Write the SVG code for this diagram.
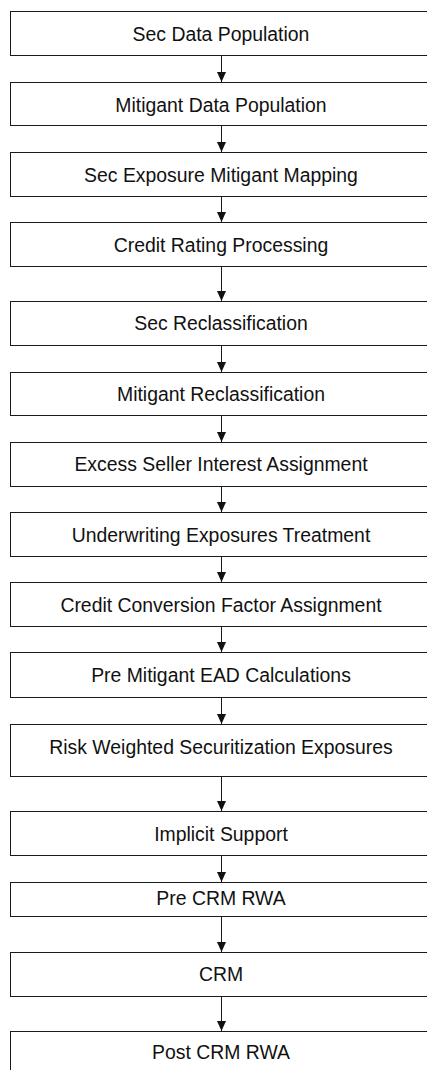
<svg xmlns="http://www.w3.org/2000/svg" width="427" height="1070" viewBox="0 0 427 1070">
<style>
.box{fill:#fff;stroke:#1a1a1a;stroke-width:1}
.lbl{font-family:"Liberation Sans",Arial,sans-serif;font-size:19.4px;fill:#111;text-anchor:middle}
.conn{stroke:#1a1a1a;stroke-width:1;fill:none}
</style>
<defs>
<marker id="ah" markerUnits="userSpaceOnUse" markerWidth="11" markerHeight="10" refX="10" refY="5" orient="auto" viewBox="0 0 11 10">
<path d="M0,0.5 L10,5 L0,9.5 Z" fill="#111"/>
</marker>
</defs>
<rect width="427" height="1070" fill="#fff"/>
<g id="connectors">
<line class="conn" x1="221.5" y1="55.5" x2="221.5" y2="82" marker-end="url(#ah)"/>
<line class="conn" x1="221.5" y1="125.5" x2="221.5" y2="152" marker-end="url(#ah)"/>
<line class="conn" x1="221.5" y1="196.5" x2="221.5" y2="222" marker-end="url(#ah)"/>
<line class="conn" x1="221.5" y1="266.5" x2="221.5" y2="301" marker-end="url(#ah)"/>
<line class="conn" x1="221.5" y1="345.5" x2="221.5" y2="372" marker-end="url(#ah)"/>
<line class="conn" x1="221.5" y1="415.5" x2="221.5" y2="442" marker-end="url(#ah)"/>
<line class="conn" x1="221.5" y1="486.5" x2="221.5" y2="512" marker-end="url(#ah)"/>
<line class="conn" x1="221.5" y1="556.5" x2="221.5" y2="582" marker-end="url(#ah)"/>
<line class="conn" x1="221.5" y1="626.5" x2="221.5" y2="652" marker-end="url(#ah)"/>
<line class="conn" x1="221.5" y1="697.5" x2="221.5" y2="724" marker-end="url(#ah)"/>
<line class="conn" x1="221.5" y1="776.5" x2="221.5" y2="811" marker-end="url(#ah)"/>
<line class="conn" x1="221.5" y1="855.5" x2="221.5" y2="882" marker-end="url(#ah)"/>
<line class="conn" x1="221.5" y1="916.5" x2="221.5" y2="952" marker-end="url(#ah)"/>
<line class="conn" x1="221.5" y1="996.5" x2="221.5" y2="1031" marker-end="url(#ah)"/>
</g>
<g id="n1"><rect class="box" x="10.5" y="11.5" width="430" height="44"/><text class="lbl" x="221" y="40.7">Sec Data Population</text></g>
<g id="n2"><rect class="box" x="10.5" y="82.5" width="430" height="43"/><text class="lbl" x="221" y="111.5">Mitigant Data Population</text></g>
<g id="n3"><rect class="box" x="10.5" y="152.5" width="430" height="44"/><text class="lbl" x="221" y="181.5">Sec Exposure Mitigant Mapping</text></g>
<g id="n4"><rect class="box" x="10.5" y="222.5" width="430" height="44"/><text class="lbl" x="221" y="251.5">Credit Rating Processing</text></g>
<g id="n5"><rect class="box" x="10.5" y="301.5" width="430" height="44"/><text class="lbl" x="221" y="329.5">Sec Reclassification</text></g>
<g id="n6"><rect class="box" x="10.5" y="372.5" width="430" height="43"/><text class="lbl" x="221" y="400.5">Mitigant Reclassification</text></g>
<g id="n7"><rect class="box" x="10.5" y="442.5" width="430" height="44"/><text class="lbl" x="221" y="471">Excess Seller Interest Assignment</text></g>
<g id="n8"><rect class="box" x="10.5" y="512.5" width="430" height="44"/><text class="lbl" x="221" y="541.5">Underwriting Exposures Treatment</text></g>
<g id="n9"><rect class="box" x="10.5" y="582.5" width="430" height="44"/><text class="lbl" x="221" y="611.5">Credit Conversion Factor Assignment</text></g>
<g id="n10"><rect class="box" x="10.5" y="652.5" width="430" height="45"/><text class="lbl" x="221" y="681.5">Pre Mitigant EAD Calculations</text></g>
<g id="n11"><rect class="box" x="10.5" y="724.5" width="430" height="52"/><text class="lbl" x="221" y="754">Risk Weighted Securitization Exposures</text></g>
<g id="n12"><rect class="box" x="10.5" y="811.5" width="430" height="44"/><text class="lbl" x="221" y="841">Implicit Support</text></g>
<g id="n13"><rect class="box" x="10.5" y="882.5" width="430" height="34"/><text class="lbl" x="221" y="905">Pre CRM RWA</text></g>
<g id="n14"><rect class="box" x="10.5" y="952.5" width="430" height="44"/><text class="lbl" x="221" y="981">CRM</text></g>
<g id="n15"><rect class="box" x="10.5" y="1031.5" width="430" height="60"/><text class="lbl" x="221" y="1059">Post CRM RWA</text></g>
</svg>
